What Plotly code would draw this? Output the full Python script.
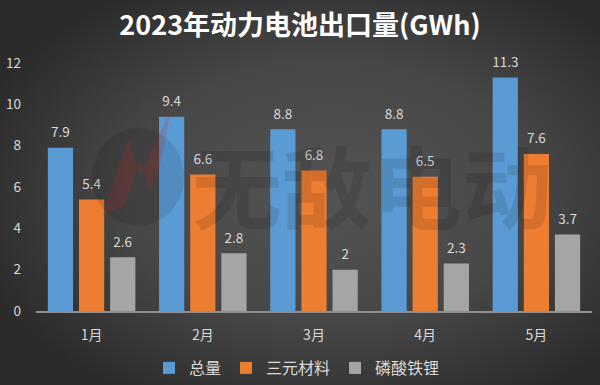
import base64
import plotly.graph_objects as go

# ---- data ----
months = ["1月", "2月", "3月", "4月", "5月"]
total = [7.9, 9.4, 8.8, 8.8, 11.3]
ternary = [5.4, 6.6, 6.8, 6.5, 7.6]
lfp = [2.6, 2.8, 2.0, 2.3, 3.7]
series_names = ["总量", "三元材料", "磷酸铁锂"]
y_ticks = [0, 2, 4, 6, 8, 10, 12]

colors = ["#5b9bd5", "#ed7d31", "#a5a5a5"]
label_color = "#d9d9d9"
font_family = "Noto Sans CJK SC, Noto Sans, sans-serif"

W, H = 600, 385
ML, MR, MT, MB = 36, 8, 63, 74
PW, PH = W - ML - MR, H - MT - MB


def px_x(x):
    return (x - ML) / PW


def px_y(y):
    return 1 - (y - MT) / PH


fig = go.Figure()
for name, vals, col in zip(series_names, [total, ternary, lfp], colors):
    fig.add_trace(go.Bar(
        x=months, y=vals, name=name,
        marker=dict(color=col, line=dict(width=0)),
        hoverinfo="skip",
    ))
for name, vals, col in zip(series_names, [total, ternary, lfp], colors):
    fig.add_trace(go.Scatter(
        x=months, y=vals, mode="markers+text",
        text=[f"{v:g}" for v in vals], textposition="top center",
        textfont=dict(size=13.5, color=label_color, family=font_family),
        marker=dict(size=10, opacity=0),
        showlegend=False, hoverinfo="skip", cliponaxis=False,
    ))

# radial gradient background
svg = (
    '<svg xmlns="http://www.w3.org/2000/svg" width="600" height="385" '
    'preserveAspectRatio="none" viewBox="0 0 600 385">'
    '<defs><radialGradient id="g" cx="55%" cy="50%" r="62%">'
    '<stop offset="0" stop-color="#545454"/>'
    '<stop offset="0.55" stop-color="#474747"/>'
    '<stop offset="1" stop-color="#2b2b2b"/>'
    '</radialGradient></defs>'
    '<rect width="600" height="385" fill="url(#g)"/></svg>'
)
src = "data:image/svg+xml;base64," + base64.b64encode(svg.encode()).decode()

fig.update_layout(
    width=W, height=H,
    margin=dict(l=ML, r=MR, t=MT, b=MB, pad=0, autoexpand=False),
    paper_bgcolor="#404040", plot_bgcolor="rgba(0,0,0,0)",
    barmode="group", bargap=0.16, bargroupgap=0.19, scattermode="group",
    font=dict(family=font_family, color=label_color),
    title=dict(
        text="<b>2023年动力电池出口量(GWh)</b>",
        x=0.5, xanchor="center", xref="container",
        y=1 - 26 / H, yanchor="middle", yref="container",
        font=dict(size=27, color="#ffffff", family=font_family),
    ),
    showlegend=True,
    legend=dict(
        orientation="h", x=297 / W, xanchor="center", xref="container",
        y=1 - 368 / H, yanchor="middle", yref="container",
        font=dict(size=16, color=label_color, family=font_family),
        bgcolor="rgba(0,0,0,0)", itemclick=False,
    ),
    xaxis=dict(
        showgrid=False, showline=True, linecolor="#8f8f8f", linewidth=1.5,
        ticks="", tickfont=dict(size=14, color=label_color),
        ticklabelstandoff=10,
    ),
    yaxis=dict(
        range=[0, 12], tickvals=y_ticks, showgrid=False, zeroline=False,
        showline=False, ticks="", tickfont=dict(size=13.5, color=label_color),
        ticklabelstandoff=14,
    ),
    images=[dict(
        source=src, xref="paper", yref="paper",
        x=px_x(0), y=px_y(0), sizex=W / PW, sizey=H / PH,
        xanchor="left", yanchor="top", sizing="stretch", layer="below",
    )],
)

# watermark decoration
fig.add_shape(type="circle", xref="paper", yref="paper",
              x0=px_x(92), x1=px_x(184), y0=px_y(226), y1=px_y(128),
              fillcolor="rgba(0,0,0,0.10)", line=dict(width=0), layer="above")
pts = [(103, 215), (128, 138), (140, 175), (152, 150), (172, 106),
       (160, 165), (150, 192), (140, 160), (125, 205)]
path = "M " + " L ".join(f"{px_x(a):.4f},{px_y(b):.4f}" for a, b in pts) + " Z"
fig.add_shape(type="path", xref="paper", yref="paper", path=path,
              fillcolor="rgba(190,40,40,0.20)", line=dict(width=0), layer="above")
fig.add_annotation(text="<b>无敌电动</b>", xref="paper", yref="paper",
                   x=px_x(372), y=px_y(183), showarrow=False,
                   font=dict(size=90, color="rgba(0,0,0,0.11)", family=font_family))

fig.write_html("out.html", config={"displayModeBar": False},
               post_script="document.body.style.margin='0px';")
